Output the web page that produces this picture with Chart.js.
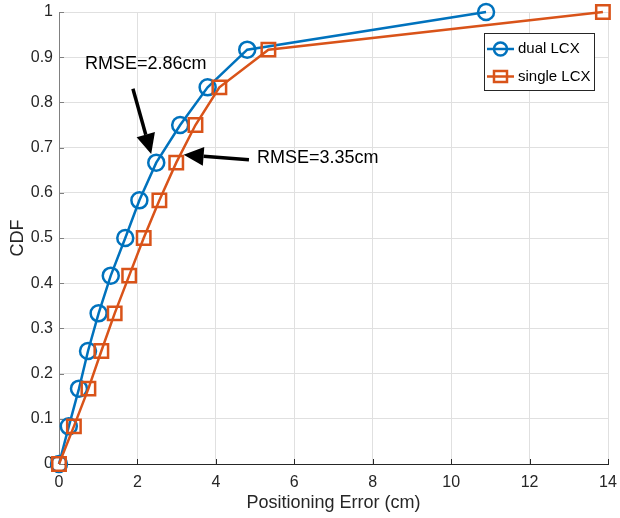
<!DOCTYPE html>
<html>
<head>
<meta charset="utf-8">
<script src="https://cdn.jsdelivr.net/npm/chart.js@4.4.1/dist/chart.umd.min.js"></script>
<style>
body { margin: 0; background: #fff; }
#wrap { width: 620px; height: 518px; position: relative; }
</style>
</head>
<body>
<div id="wrap"><canvas id="cdfChart"></canvas></div>
<script>
// data
const cdfLevels = [0, 0.0833, 0.1667, 0.25, 0.3333, 0.4167, 0.5, 0.5833, 0.6667, 0.75, 0.8333, 0.9167, 1]
const dualError = [0, 0.25, 0.51, 0.74, 1.01, 1.32, 1.69, 2.05, 2.48, 3.09, 3.79, 4.80, 10.89]
const singleError = [0, 0.38, 0.75, 1.08, 1.42, 1.79, 2.16, 2.56, 2.99, 3.48, 4.09, 5.34, 13.87]
const seriesNames = ['dual LCX', 'single LCX']
const xTicks = [0, 2, 4, 6, 8, 10, 12, 14]
const yTicks = [0, 0.1, 0.2, 0.3, 0.4, 0.5, 0.6, 0.7, 0.8, 0.9, 1]

// annotations (in data units)
const noteText = ['RMSE=2.86cm', 'RMSE=3.35cm']
const noteAt = [[0.66, 0.885], [5.05, 0.678]]
const arrowFrom = [[1.885, 0.830], [4.844, 0.673]]
const arrowTo = [[2.351, 0.686], [3.178, 0.684]]

const blue = '#0072BD'
const orange = '#D95319'
const ink = '#262626'
const font = '"Liberation Sans", Arial, Helvetica, sans-serif'

function points(xs, ys) {
    return xs.map((x, i) => ({ x: x, y: ys[i] }))
}

// inward tick marks (matlab style)
const innerTicks = {
    id: 'innerTicks',
    beforeDatasetsDraw(chart) {
        const { ctx, chartArea, scales } = chart
        ctx.save()
        ctx.lineWidth = 1
        ctx.strokeStyle = ink
        xTicks.forEach(v => {
            const px = Math.round(scales.x.getPixelForValue(v)) + 0.5
            ctx.beginPath()
            ctx.moveTo(px, chartArea.bottom)
            ctx.lineTo(px, chartArea.bottom - 5)
            ctx.stroke()
        })
        ctx.strokeStyle = '#808080'
        yTicks.forEach(v => {
            const py = Math.round(scales.y.getPixelForValue(v)) + 0.5
            ctx.beginPath()
            ctx.moveTo(chartArea.left, py)
            ctx.lineTo(chartArea.left + 5, py)
            ctx.stroke()
        })
        ctx.restore()
    }
}

// arrows + RMSE texts
const notes = {
    id: 'notes',
    afterDatasetsDraw(chart) {
        const { ctx, scales } = chart
        ctx.save()
        ctx.fillStyle = '#000'
        ctx.strokeStyle = '#000'
        ctx.font = '18px ' + font
        ctx.textBaseline = 'middle'
        ctx.textAlign = 'left'
        noteText.forEach((t, i) => {
            ctx.fillText(t, scales.x.getPixelForValue(noteAt[i][0]), scales.y.getPixelForValue(noteAt[i][1]))
        })
        arrowFrom.forEach((from, i) => {
            const x0 = scales.x.getPixelForValue(from[0])
            const y0 = scales.y.getPixelForValue(from[1])
            const x1 = scales.x.getPixelForValue(arrowTo[i][0])
            const y1 = scales.y.getPixelForValue(arrowTo[i][1])
            const ang = Math.atan2(y1 - y0, x1 - x0)
            const headLen = 20, headW = 9.5
            const bx = x1 - headLen * Math.cos(ang)
            const by = y1 - headLen * Math.sin(ang)
            ctx.lineWidth = 3.5
            ctx.beginPath()
            ctx.moveTo(x0, y0)
            ctx.lineTo(bx, by)
            ctx.stroke()
            ctx.beginPath()
            ctx.moveTo(x1, y1)
            ctx.lineTo(bx + headW * Math.sin(ang), by - headW * Math.cos(ang))
            ctx.lineTo(bx - headW * Math.sin(ang), by + headW * Math.cos(ang))
            ctx.closePath()
            ctx.fill()
        })
        ctx.restore()
    }
}

// legend box inside the axes, top right
const boxLegend = {
    id: 'boxLegend',
    afterDraw(chart) {
        const { ctx, chartArea } = chart
        const right = chartArea.right - 14
        const left = right - 110
        const top = chartArea.top + 21
        const h = 57
        ctx.save()
        ctx.fillStyle = '#fff'
        ctx.fillRect(left, top, right - left, h)
        ctx.strokeStyle = ink
        ctx.lineWidth = 1
        ctx.strokeRect(Math.round(left) + 0.5, Math.round(top) + 0.5, right - left, h)
        ctx.font = '15px ' + font
        ctx.textBaseline = 'middle'
        ctx.fillStyle = '#000'
        chart.data.datasets.forEach(ds => {
            const idx = seriesNames.indexOf(ds.label)
            const cy = top + 16 + idx * 27.5
            const lx0 = left + 3, lx1 = left + 30, cx = (lx0 + lx1) / 2
            ctx.strokeStyle = ds.borderColor
            ctx.lineWidth = 2.5
            ctx.beginPath()
            ctx.moveTo(lx0, cy)
            ctx.lineTo(lx1, cy)
            ctx.stroke()
            ctx.beginPath()
            if (ds.pointStyle === 'circle') {
                ctx.arc(cx, cy, 6.5, 0, Math.PI * 2)
            } else {
                ctx.rect(cx - 6.5, cy - 5.5, 13, 11)
            }
            ctx.stroke()
            ctx.fillStyle = '#000'
            ctx.fillText(ds.label, left + 34, cy)
        })
        ctx.restore()
    }
}

const ctx = document.getElementById('cdfChart').getContext('2d')
new Chart(ctx, {
    type: 'scatter',
    data: {
        datasets: [{
            label: seriesNames[0],
            data: points(dualError, cdfLevels),
            showLine: true,
            clip: false,
            borderColor: blue,
            backgroundColor: 'rgba(0,0,0,0)',
            borderWidth: 2.5,
            pointStyle: 'circle',
            pointRadius: 8,
            pointBorderWidth: 2.5,
            pointBackgroundColor: 'rgba(0,0,0,0)',
            pointBorderColor: blue,
            order: 1
        }, {
            label: seriesNames[1],
            data: points(singleError, cdfLevels),
            showLine: true,
            clip: false,
            borderColor: orange,
            backgroundColor: 'rgba(0,0,0,0)',
            borderWidth: 2.5,
            pointStyle: 'rect',
            pointRadius: 9.5,
            pointBorderWidth: 2.5,
            pointBackgroundColor: 'rgba(0,0,0,0)',
            pointBorderColor: orange,
            order: 0
        }]
    },
    options: {
        responsive: true,
        maintainAspectRatio: false,
        animation: false,
        layout: { padding: 0 },
        plugins: {
            legend: { display: false },
            tooltip: { enabled: false }
        },
        scales: {
            x: {
                type: 'linear',
                min: 0,
                max: 14,
                afterBuildTicks: s => { s.ticks = xTicks.map(v => ({ value: v })) },
                afterFit: s => { s.height = 54; s.paddingLeft = 0; s.paddingRight = 9 },
                grid: { color: '#e0e0e0', drawTicks: false },
                border: { color: ink, width: 1 },
                ticks: {
                    padding: 9,
                    color: ink,
                    font: { family: font, size: 16 },
                    maxRotation: 0,
                    callback: v => String(v)
                },
                title: {
                    display: true,
                    text: 'Positioning Error (cm)',
                    color: ink,
                    font: { family: font, size: 18 },
                    padding: { top: 0, bottom: 4 }
                }
            },
            y: {
                type: 'linear',
                min: 0,
                max: 1,
                afterBuildTicks: s => { s.ticks = yTicks.map(v => ({ value: v })) },
                afterFit: s => { s.width = 59; s.paddingTop = 11; s.paddingBottom = 0 },
                grid: { color: '#e0e0e0', drawTicks: false },
                border: { color: '#808080', width: 1 },
                ticks: {
                    padding: 6,
                    color: ink,
                    font: { family: font, size: 16 },
                    callback: v => String(v)
                },
                title: {
                    display: true,
                    text: 'CDF',
                    color: ink,
                    font: { family: font, size: 18 },
                    padding: { top: 7, bottom: 0 }
                }
            }
        }
    },
    plugins: [innerTicks, notes, boxLegend]
})
</script>
</body>
</html>
